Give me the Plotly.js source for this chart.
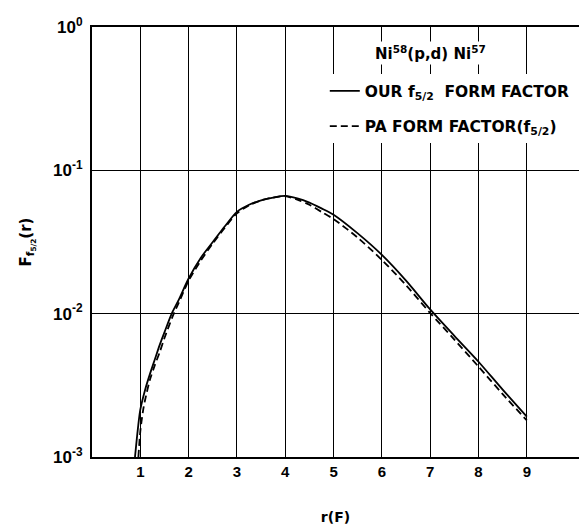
<!DOCTYPE html>
<html>
<head>
<meta charset="utf-8">
<script src="https://cdn.plot.ly/plotly-3.0.1.min.js"></script>
<style>html,body{margin:0;padding:0;background:#fff;}#chart{width:579px;height:525px;}</style>
</head>
<body>
<div id="chart"></div>
<script>
// Radius r (fermi) and form factor values
const rOur = [0.89, 0.95, 1.0, 1.1, 1.2, 1.3, 1.4, 1.5, 1.65, 1.8, 2.0, 2.25, 2.5, 2.75, 3.0, 3.25, 3.5, 3.75, 4.0, 4.25, 4.5, 4.75, 5.0, 5.5, 6.0, 6.5, 7.0, 7.5, 8.0, 8.5, 9.0];
const fOur = [0.00100, 0.00158, 0.00214, 0.00295, 0.00380, 0.00479, 0.00603, 0.00741, 0.0100, 0.0126, 0.0176, 0.0245, 0.0316, 0.0407, 0.0513, 0.0575, 0.0617, 0.0646, 0.0664, 0.0638, 0.0596, 0.0543, 0.0490, 0.0363, 0.0257, 0.0170, 0.0107, 0.0070, 0.00462, 0.00295, 0.00191];

const rPA = [0.96, 1.0, 1.06, 1.1, 1.2, 1.3, 1.4, 1.5, 1.68, 1.8, 2.0, 2.25, 2.5, 2.75, 3.0, 3.25, 3.5, 3.75, 4.0, 4.25, 4.5, 4.75, 5.0, 5.5, 6.0, 6.5, 7.0, 7.5, 8.0, 8.5, 9.0];
const fPA = [0.00100, 0.00151, 0.00214, 0.00251, 0.00347, 0.00437, 0.00537, 0.00676, 0.00977, 0.0120, 0.0170, 0.0234, 0.0309, 0.0398, 0.0501, 0.0569, 0.0617, 0.0646, 0.0661, 0.0624, 0.0575, 0.0513, 0.0457, 0.0339, 0.0237, 0.0158, 0.0101, 0.0066, 0.00427, 0.00275, 0.00180];

const xTicks = [1, 2, 3, 4, 5, 6, 7, 8, 9];
const yTickVals = [0.001, 0.01, 0.1, 1];
const yTickText = ['10<sup>-3</sup>', '10<sup>-2</sup>', '10<sup>-1</sup>', '10<sup>0</sup>'];

const FONT = 'Liberation Sans, Arial, sans-serif';
const WIDE = 'DejaVu Sans, Verdana, sans-serif';

const traces = [
  {
    x: rOur, y: fOur, type: 'scatter', mode: 'lines', legendgroup: 'our',
    name: 'OUR f<sub>5/2</sub>  FORM FACTOR',
    line: {color: '#000', width: 1.8, shape: 'spline', smoothing: 0.8}
  },
  {
    x: rPA, y: fPA, type: 'scatter', mode: 'lines', legendgroup: 'pa',
    name: 'PA FORM FACTOR(f<sub>5/2</sub>)',
    line: {color: '#000', width: 1.8, dash: '7px,4px', shape: 'spline', smoothing: 0.8}
  }
];

const layout = {
  width: 579, height: 525,
  margin: {l: 92, r: 0, t: 27, b: 68},
  paper_bgcolor: '#fff', plot_bgcolor: '#fff',
  font: {family: FONT, color: '#000', size: 14, weight: 'bold'},
  showlegend: true,
  legend: {
    x: 0.478, y: 0.89, xanchor: 'left', yanchor: 'top',
    bgcolor: '#fff', borderwidth: 0,
    font: {family: WIDE, size: 15.5, color: '#000', weight: 'bold'},
    itemwidth: 30, tracegroupgap: 12
  },
  xaxis: {
    range: [0, 10.08], showline: true, linewidth: 2, linecolor: '#000', mirror: true,
    showgrid: true, gridcolor: '#000', gridwidth: 1,
    tickvals: xTicks, ticks: '', zeroline: false,
    tickfont: {family: FONT, size: 15, weight: 'bold'},
    title: {text: 'r(F)', standoff: 36, font: {family: WIDE, size: 14, weight: 'bold'}}
  },
  yaxis: {
    type: 'log', range: [-3, 0], showline: true, linewidth: 2, linecolor: '#000',
    showgrid: true, gridcolor: '#000', gridwidth: 1,
    tickvals: yTickVals, ticktext: yTickText, ticks: '', ticklabelstandoff: 4,
    tickfont: {family: FONT, size: 17, weight: 'bold'},
    title: {text: 'F<sub>f<sub>5/2</sub></sub>(r)', standoff: 18, font: {family: WIDE, size: 15, weight: 'bold'}}
  },
  annotations: [
    {
      xref: 'paper', yref: 'paper', x: 0.696, y: 0.94, xanchor: 'center', yanchor: 'middle',
      text: 'Ni<sup>58</sup>(p,d) Ni<sup>57</sup>', showarrow: false, bgcolor: '#fff',
      font: {family: WIDE, size: 15, weight: 'bold'}
    }
  ]
};

Plotly.newPlot('chart', traces, layout, {displayModeBar: false, staticPlot: true});
</script>
</body>
</html>
